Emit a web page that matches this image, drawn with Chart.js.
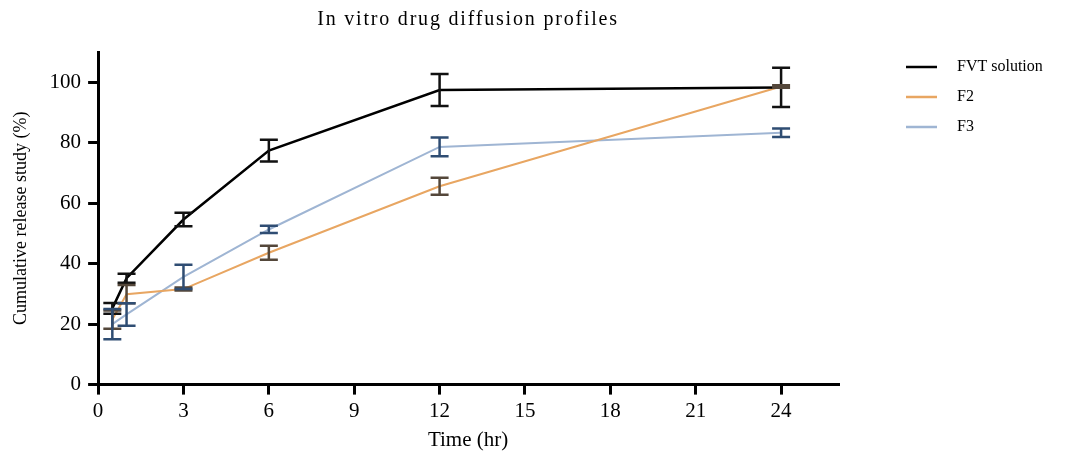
<!DOCTYPE html>
<html>
<head>
<meta charset="utf-8">
<script src="https://cdn.jsdelivr.net/npm/chart.js@4.4.1/dist/chart.umd.min.js"></script>
<style>
  html, body { margin: 0; padding: 0; background: #fff; }
  #wrap { width: 1072px; height: 455px; }
</style>
</head>
<body>
<div id="wrap"><canvas id="chart"></canvas></div>
<script>
// time points (hr) and mean +/- error for each formulation
const times = [0.5, 1, 3, 6, 12, 24];
const fvtMean = [25.2, 35.2, 54.6, 77.4, 97.4, 98.3];
const fvtErr = [1.8, 1.5, 2.2, 3.6, 5.3, 6.5];
const f2Mean = [21.5, 29.9, 31.6, 43.6, 65.6, 98.6];
const f2Err = [3.0, 3.0, 0.5, 2.3, 2.8, 0.4];
const f3Mean = [20.0, 23.2, 35.6, 51.3, 78.6, 83.3];
const f3Err = [5.0, 3.7, 4.0, 1.2, 3.1, 1.4];
const seriesNames = ['FVT solution', 'F2', 'F3'];
const chartTitle = 'In vitro drug diffusion profiles';

const serif = 'Liberation Serif';

function points(means) {
    return times.map((t, i) => ({ x: t, y: means[i] }));
}

// vertical error bars with caps, drawn through the chart scales
const errorBars = {
    id: 'errorBars',
    afterDatasetsDraw(chart) {
        const ctx = chart.ctx;
        const xs = chart.scales.x, ys = chart.scales.y;
        chart.data.datasets.forEach(ds => {
            ctx.save();
            ctx.strokeStyle = ds.errorColor;
            ctx.lineWidth = 2.5;
            ds.data.forEach((p, i) => {
                const e = ds.errors[i];
                const x = xs.getPixelForValue(p.x);
                const y1 = ys.getPixelForValue(p.y + e);
                const y2 = ys.getPixelForValue(p.y - e);
                ctx.beginPath();
                ctx.moveTo(x, y1); ctx.lineTo(x, y2);
                ctx.moveTo(x - 9, y1); ctx.lineTo(x + 9, y1);
                ctx.moveTo(x - 9, y2); ctx.lineTo(x + 9, y2);
                ctx.stroke();
            });
            ctx.restore();
        });
    }
};

// title (spaced a bit wider) and legend at the right
const decorations = {
    id: 'decorations',
    afterDraw(chart) {
        const ctx = chart.ctx;
        const area = chart.chartArea;
        ctx.save();
        ctx.fillStyle = '#000';
        ctx.font = '20px "' + serif + '"';
        ctx.letterSpacing = '1.8px';
        ctx.textAlign = 'center';
        ctx.textBaseline = 'alphabetic';
        ctx.fillText(chartTitle, (area.left + area.right) / 2, 25);
        ctx.letterSpacing = '0px';

        ctx.font = '16px "' + serif + '"';
        ctx.textAlign = 'left';
        ctx.textBaseline = 'middle';
        chart.data.datasets.forEach((ds, i) => {
            const y = 67 + i * 30;
            ctx.strokeStyle = ds.borderColor;
            ctx.lineWidth = 2.5;
            ctx.beginPath();
            ctx.moveTo(906, y); ctx.lineTo(937, y);
            ctx.stroke();
            ctx.fillText(ds.label, 957, y);
        });
        ctx.restore();
    }
};

const config = {
    type: 'line',
    data: {
        datasets: [{
            label: seriesNames[0],
            data: points(fvtMean),
            errors: fvtErr,
            errorColor: '#111111',
            borderColor: '#000000',
            borderWidth: 2.5
        }, {
            label: seriesNames[1],
            data: points(f2Mean),
            errors: f2Err,
            errorColor: '#54473a',
            borderColor: '#e8a662',
            borderWidth: 2
        }, {
            label: seriesNames[2],
            data: points(f3Mean),
            errors: f3Err,
            errorColor: '#2f4d73',
            borderColor: '#9fb5d3',
            borderWidth: 2
        }]
    },
    options: {
        responsive: true,
        maintainAspectRatio: false,
        animation: false,
        elements: { point: { radius: 0 }, line: { tension: 0 } },
        layout: { padding: { left: 10, right: 234, top: 52, bottom: 2 } },
        plugins: {
            legend: { display: false },
            tooltip: { enabled: false },
            title: { display: false }
        },
        scales: {
            x: {
                type: 'linear',
                min: 0,
                max: 26,
                afterBuildTicks: axis => {
                    axis.ticks = axis.ticks.filter(t => t.value % 3 === 0);
                },
                ticks: {
                    stepSize: 3,
                    color: '#000',
                    padding: 4,
                    font: { family: serif, size: 21 }
                },
                grid: {
                    drawOnChartArea: false,
                    drawTicks: true,
                    tickLength: 10,
                    color: '#000',
                    lineWidth: 3
                },
                border: { color: '#000', width: 3 },
                title: {
                    display: true,
                    text: 'Time (hr)',
                    color: '#000',
                    font: { family: serif, size: 21 },
                    padding: { top: 0, bottom: 0 }
                }
            },
            y: {
                min: 0,
                max: 110,
                afterBuildTicks: axis => {
                    axis.ticks = axis.ticks.filter(t => t.value % 20 === 0 && t.value <= 100);
                },
                ticks: {
                    stepSize: 20,
                    color: '#000',
                    padding: 7,
                    font: { family: serif, size: 21 }
                },
                grid: {
                    drawOnChartArea: false,
                    drawTicks: true,
                    tickLength: 10,
                    color: '#000',
                    lineWidth: 3
                },
                border: { color: '#000', width: 3 },
                title: {
                    display: true,
                    text: 'Cumulative release study (%)',
                    color: '#000',
                    font: { family: serif, size: 18 },
                    padding: { top: 0, bottom: 11 }
                }
            }
        }
    },
    plugins: [errorBars, decorations]
};

const chart = new Chart(document.getElementById('chart').getContext('2d'), config);
</script>
</body>
</html>
